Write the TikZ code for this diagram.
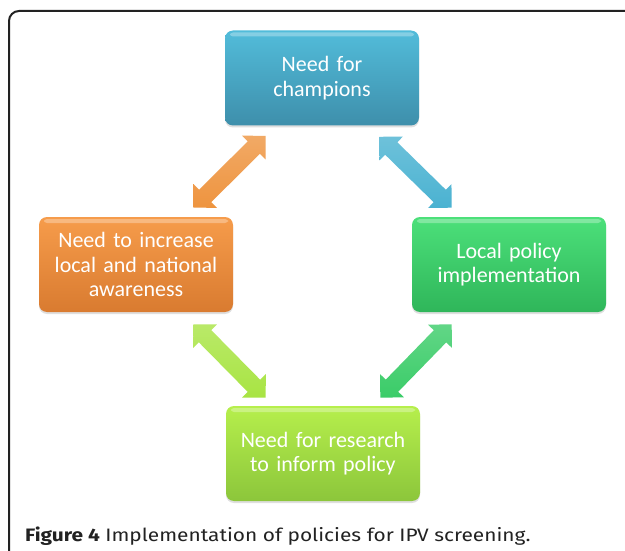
\documentclass[tikz,border=0pt]{standalone}
\usepackage{fontspec}
\setmainfont{Carlito}
\newfontfamily\capfont[FakeStretch=1.16]{Fira Sans}
\usetikzlibrary{shapes.arrows,calc,shadows}

% box and arrow colours
\definecolor{blueTop}{HTML}{52BCDA}
\definecolor{blueBot}{HTML}{3E8FAB}
\definecolor{orangeTop}{HTML}{F69C4B}
\definecolor{orangeBot}{HTML}{D97B30}
\definecolor{greenTop}{HTML}{4CE07A}
\definecolor{greenBot}{HTML}{2FB65A}
\definecolor{limeTop}{HTML}{B6EF4C}
\definecolor{limeBot}{HTML}{8CC63B}
\definecolor{arrOrange}{HTML}{EE943F}
\definecolor{arrBlue}{HTML}{4AB2D1}
\definecolor{arrLime}{HTML}{A8E443}
\definecolor{arrGreen}{HTML}{3ACC68}
\definecolor{frameGray}{HTML}{222222}

\tikzset{
  stage/.style={rounded corners=8pt, minimum width=194pt, minimum height=95pt,
    text width=186pt, align=center, text=white,
    font=\fontsize{22}{24.5}\selectfont,
    drop shadow={opacity=0.25, shadow xshift=0pt, shadow yshift=-2pt},
    path picture={\fill[white, opacity=0.3, rounded corners=3pt]
      ([shift={(5pt,-2pt)}]path picture bounding box.north west) rectangle
      ([shift={(-5pt,-6pt)}]path picture bounding box.north east);}},
  link/.style={double arrow, inner xsep=0pt, inner ysep=8.5pt,
    text height=0pt, text depth=0pt, double arrow head extend=8pt}
}

% double headed block arrow between two named points
\newcommand\linkarrow[4]{%
  \path let \p1=(#2), \p2=(#3), \n1={atan2(\y2-\y1,\x2-\x1)},
    \n2={veclen(\x2-\x1,\y2-\y1)} in
    node[link, top color=#4!80!white, bottom color=#4, rotate=\n1,
      minimum height=\n2] (#1) at ($(#2)!0.5!(#3)$) {};
}

\begin{document}
\begin{tikzpicture}[x=1pt, y=-1pt]
  \useasboundingbox (0,0) rectangle (625,551);
  \fill[white] (0,0) rectangle (625,551);
  \clip (0,0) rectangle (625,551);
  % outer frame
  \draw[frameGray, line width=2pt, rounded corners=10pt] (9,11) rectangle (660,560);

  % the four stages
  \node[stage, top color=blueTop, bottom color=blueBot] (champions) at (322,78) {Need for\\champions};
  \node[stage, top color=orangeTop, bottom color=orangeBot] (awareness) at (136,264.5) {Need to increase\\local and national\\awareness};
  \node[stage, top color=greenTop, bottom color=greenBot] (localpolicy) at (509,264.5) {Local policy\\implementation};
  \node[stage, top color=limeTop, bottom color=limeBot] (research) at (323,453.5) {Need for research\\to inform policy};

  % arrow ends
  \coordinate (aw-up) at ([shift={(-40,-9)}]awareness.north east);
  \coordinate (ch-left) at ([shift={(41,10)}]champions.south west);
  \coordinate (ch-right) at ([shift={(-40,11)}]champions.south east);
  \coordinate (lp-up) at ([shift={(40,-9)}]localpolicy.north west);
  \coordinate (aw-down) at ([shift={(-40,12)}]awareness.south east);
  \coordinate (re-left) at ([shift={(40,-8)}]research.north west);
  \coordinate (re-right) at ([shift={(-40,-8)}]research.north east);
  \coordinate (lp-down) at ([shift={(40,12)}]localpolicy.south west);

  \linkarrow{a1}{aw-up}{ch-left}{arrOrange}
  \linkarrow{a2}{ch-right}{lp-up}{arrBlue}
  \linkarrow{a3}{aw-down}{re-left}{arrLime}
  \linkarrow{a4}{re-right}{lp-down}{arrGreen}

  % caption
  \node[anchor=base west, inner sep=0pt, text=frameGray,
    font=\capfont\fontsize{18}{20}\selectfont] (caption) at (25,541)
    {\textbf{Figure 4} Implementation of policies for IPV screening.};
\end{tikzpicture}
\end{document}
